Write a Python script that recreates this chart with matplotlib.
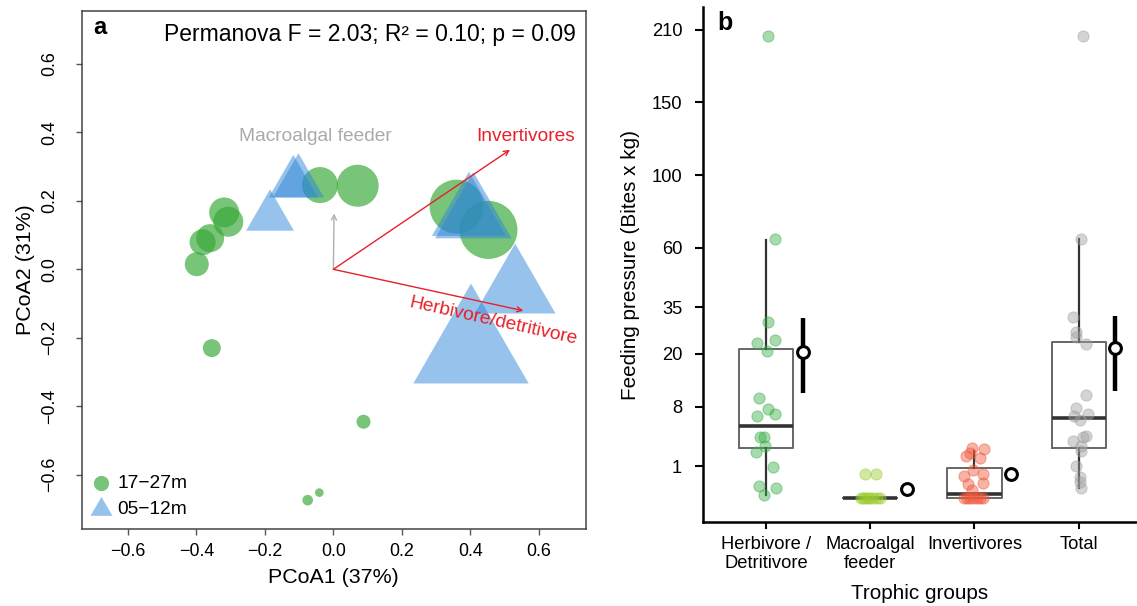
import numpy as np
import matplotlib
matplotlib.use("Agg")
import matplotlib.pyplot as plt
from matplotlib.path import Path

plt.rcParams['font.family'] = ['Liberation Sans', 'DejaVu Sans']

# ---- panel a: PCoA site scores ----
deep_x = [-0.319, -0.307, -0.360, -0.382, -0.399, -0.039, 0.071, 0.360, 0.453, -0.355, 0.088, -0.075, -0.041]
deep_y = [0.166, 0.139, 0.091, 0.079, 0.015, 0.246, 0.244, 0.183, 0.115, -0.230, -0.445, -0.674, -0.652]
deep_w = [1.5, 1.5, 1.4, 1.3, 1.2, 1.8, 2.1, 2.7, 2.9, 0.9, 0.7, 0.53, 0.43]
shallow_x = [-0.117, -0.102, -0.185, 0.396, 0.409, 0.531, 0.402]
shallow_y = [0.251, 0.253, 0.153, 0.160, 0.155, -0.061, -0.236]
shallow_w = [1.42, 1.47, 1.38, 2.14, 2.21, 2.33, 3.33]

vec_names = ['Herbivore/detritivore', 'Macroalgal feeder', 'Invertivores']
vec_x = [0.555, 0.002, 0.516]
vec_y = [-0.121, 0.163, 0.349]

pcoa_ticks = [-0.6, -0.4, -0.2, 0.0, 0.2, 0.4, 0.6]

# ---- panel b: feeding pressure ----
groups = ['Herbivore /\nDetritivore', 'Macroalgal\nfeeder', 'Invertivores', 'Total']

herb_vals = [204.9, 64.2, 29.7, 23.2, 24.0, 20.7, 9.6, 7.7, 6.5, 6.8, 3.6, 3.6,
             2.65, 2.08, 0.96, 0.15, 0.10, 0.01]
herb_jit = [0.016, 0.083, 0.016, -0.083, 0.086, 0.010, -0.064, 0.022, -0.086, 0.089,
            -0.058, -0.019, -0.010, -0.096, 0.064, -0.067, 0.093, -0.019]

macro_vals = [0.55, 0.55, 0, 0, 0, 0, 0, 0, 0, 0]
macro_jit = [-0.048, 0.055, -0.09, -0.07, -0.05, -0.02, 0.0, 0.03, 0.06, 0.09]

inv_vals = [2.39, 2.30, 1.74, 1.94, 1.53, 0.77, 0.48, 0.55, 0.19, 0.22, 0.066,
            0, 0, 0, 0, 0, 0, 0]
inv_jit = [-0.026, 0.089, -0.080, -0.038, 0.055, -0.010, -0.105, 0.080, -0.060, 0.080,
           -0.026, -0.10, -0.07, -0.04, -0.01, 0.02, 0.05, 0.08]

tot_vals = [204.9, 64.2, 31.6, 26.4, 25.0, 22.7, 10.2, 7.9, 6.8, 6.5, 5.9, 3.75, 3.6,
            3.1, 2.65, 2.14, 1.02, 0.45, 0.26, 0.10]
tot_jit = [0.038, 0.019, -0.055, -0.022, -0.029, 0.074, 0.074, -0.022, 0.086, -0.048,
           0.010, 0.067, 0.038, -0.058, 0.026, 0.026, -0.022, 0.010, 0.010, 0.026]

box_q1 = [2.45, 0, 0, 2.45]
box_med = [5.0, 0, 0.02, 6.2]
box_q3 = [21.3, 0, 0.90, 23.3]
box_lo = [0.01, 0, 0, 0.10]
box_hi = [63.9, 0, 2.17, 64.2]

mean_v = [20.6, 0.078, 0.55, 21.5]
mean_lo = [10.6, np.nan, np.nan, 11.1]
mean_hi = [31.1, np.nan, np.nan, 31.8]

fp_ticks = [1, 8, 20, 35, 60, 100, 150, 210]

pt_colors = ['#3cae4a', '#9acd32', '#f0583c', '#a0a0a0']


fig = plt.figure(figsize=(11.37, 6.06), dpi=100)

# ================= panel a =================
ax1 = fig.add_axes([0.0719, 0.1266, 0.4432, 0.8557])
green = '#38a838'
blue = '#2f86d8'

ax1.scatter(deep_x, deep_y, s=(14.4 * np.array(deep_w)) ** 2, color=green,
            alpha=0.68, linewidths=0, label='17\u221227m', zorder=2)
tri = Path([(0, 1), (-0.866, -0.5), (0.866, -0.5), (0, 1)],
           [Path.MOVETO, Path.LINETO, Path.LINETO, Path.CLOSEPOLY])
ax1.scatter(shallow_x, shallow_y, s=(28.8 * np.array(shallow_w)) ** 2, marker=tri,
            color=blue, alpha=0.5, linewidths=0, label='05\u221212m', zorder=3)

vec_cols = ['#e8202a', '#b0b0b0', '#e8202a']
for name, vx, vy, c in zip(vec_names, vec_x, vec_y, vec_cols):
    ax1.annotate('', xy=(vx, vy), xytext=(0, 0),
                 arrowprops=dict(arrowstyle='->', color=c, lw=1.0,
                                 shrinkA=0, shrinkB=0, mutation_scale=9), zorder=4)
ax1.text(0.563, 0.387, vec_names[2], color='#e8202a', fontsize=13.8, ha='center', va='center')
ax1.text(-0.052, 0.387, vec_names[1], color='#aaaaaa', fontsize=13.8, ha='center', va='center')
ax1.text(0.466, -0.150, vec_names[0], color='#e8202a', fontsize=13.8, ha='center', va='center',
         rotation=-12.5, rotation_mode='anchor')

ax1.set_xlim(-0.735, 0.737)
ax1.set_ylim(-0.759, 0.755)
lab = [f"{v:.1f}".replace('-', '\u2212') for v in pcoa_ticks]
ax1.set_xticks(pcoa_ticks, lab)
ax1.set_yticks(pcoa_ticks, lab)
ax1.tick_params(axis='both', length=4, width=1, color='#555555', labelsize=12.9)
ax1.tick_params(axis='x', pad=6)
ax1.tick_params(axis='y', pad=13, labelrotation=90)
for t in ax1.get_yticklabels():
    t.set_va('center')
for sp in ax1.spines.values():
    sp.set_color('#444444')
    sp.set_linewidth(1.1)
ax1.set_xlabel('PCoA1 (37%)', fontsize=15.4)
ax1.set_ylabel('PCoA2 (31%)', fontsize=15.4)
ax1.xaxis.set_label_coords(0.5, -0.075)
ax1.yaxis.set_label_coords(-0.092, 0.5)

ax1.text(0.022, 0.956, 'a', transform=ax1.transAxes, fontsize=17, fontweight='bold', va='baseline')
ax1.text(0.980, 0.942, 'Permanova F = 2.03; R\u00b2 = 0.10; p = 0.09', transform=ax1.transAxes,
         fontsize=16.5, ha='right', va='baseline')

leg = ax1.legend(loc='lower left', frameon=False, fontsize=13.8, handletextpad=0.45,
                 borderaxespad=0.2, borderpad=0.4, labelspacing=0.45, scatterpoints=1,
                 handlelength=0.8)
leg.legend_handles[0].set_sizes([120])
leg.legend_handles[1].set_sizes([330])
leg.legend_handles[0].set_alpha(0.68)
leg.legend_handles[1].set_alpha(0.5)

# ================= panel b =================
ax2 = fig.add_axes([0.6183, 0.1386, 0.3817, 0.8498])


def fwd(v):
    v = np.asarray(v, dtype=float)
    return np.sign(v) * np.sqrt(np.abs(v))


def inv(v):
    v = np.asarray(v, dtype=float)
    return np.sign(v) * v ** 2


ax2.set_yscale('function', functions=(fwd, inv))
pos = np.arange(1, len(groups) + 1)

stats = [dict(med=m, q1=a, q3=b, whislo=lo, whishi=hi, fliers=[])
         for m, a, b, lo, hi in zip(box_med, box_q1, box_q3, box_lo, box_hi)]
ax2.bxp(stats, positions=pos, widths=0.52, showcaps=False, showfliers=False,
        boxprops=dict(color='#666666', lw=1.4),
        medianprops=dict(color='#333333', lw=2.6, solid_capstyle='butt'),
        whiskerprops=dict(color='#333333', lw=1.6), manage_ticks=False, zorder=2)

for i, (vals, jit) in enumerate([(herb_vals, herb_jit), (macro_vals, macro_jit),
                                 (inv_vals, inv_jit), (tot_vals, tot_jit)]):
    ax2.scatter(pos[i] + np.array(jit), vals, s=64, color=pt_colors[i], alpha=0.45,
                edgecolors=pt_colors[i], linewidths=0.8, zorder=3)

mx = pos + 0.35
for x, lo, hi in zip(mx, mean_lo, mean_hi):
    if np.isfinite(lo):
        ax2.plot([x, x], [lo, hi], color='black', lw=3.2, solid_capstyle='butt', zorder=4)
ax2.plot(mx, mean_v, 'o', ms=8.5, mfc='white', mec='black', mew=2.2, ls='none', zorder=5)

ax2.set_xlim(0.395, 4.56)
ax2.set_ylim(-0.533, 231)
ax2.set_yticks(fp_ticks, [str(t) for t in fp_ticks])
ax2.yaxis.set_minor_locator(matplotlib.ticker.NullLocator())
ax2.set_xticks(pos, groups)
ax2.tick_params(axis='y', length=6, width=1.5, labelsize=13.2, pad=9)
ax2.tick_params(axis='x', length=5, width=1.5, labelsize=13.2, pad=5)
for s in ['top', 'right']:
    ax2.spines[s].set_visible(False)
for s in ['left', 'bottom']:
    ax2.spines[s].set_linewidth(1.8)
ax2.set_xlabel('Trophic groups', fontsize=14.9)
ax2.set_ylabel('Feeding pressure (Bites x kg)', fontsize=14.9)
ax2.xaxis.set_label_coords(0.5, -0.12)
ax2.yaxis.set_label_coords(-0.145, 0.5)
ax2.text(0.032, 0.955, 'b', transform=ax2.transAxes, fontsize=18, fontweight='bold', va='baseline')

fig.savefig('out.png', dpi=100)
